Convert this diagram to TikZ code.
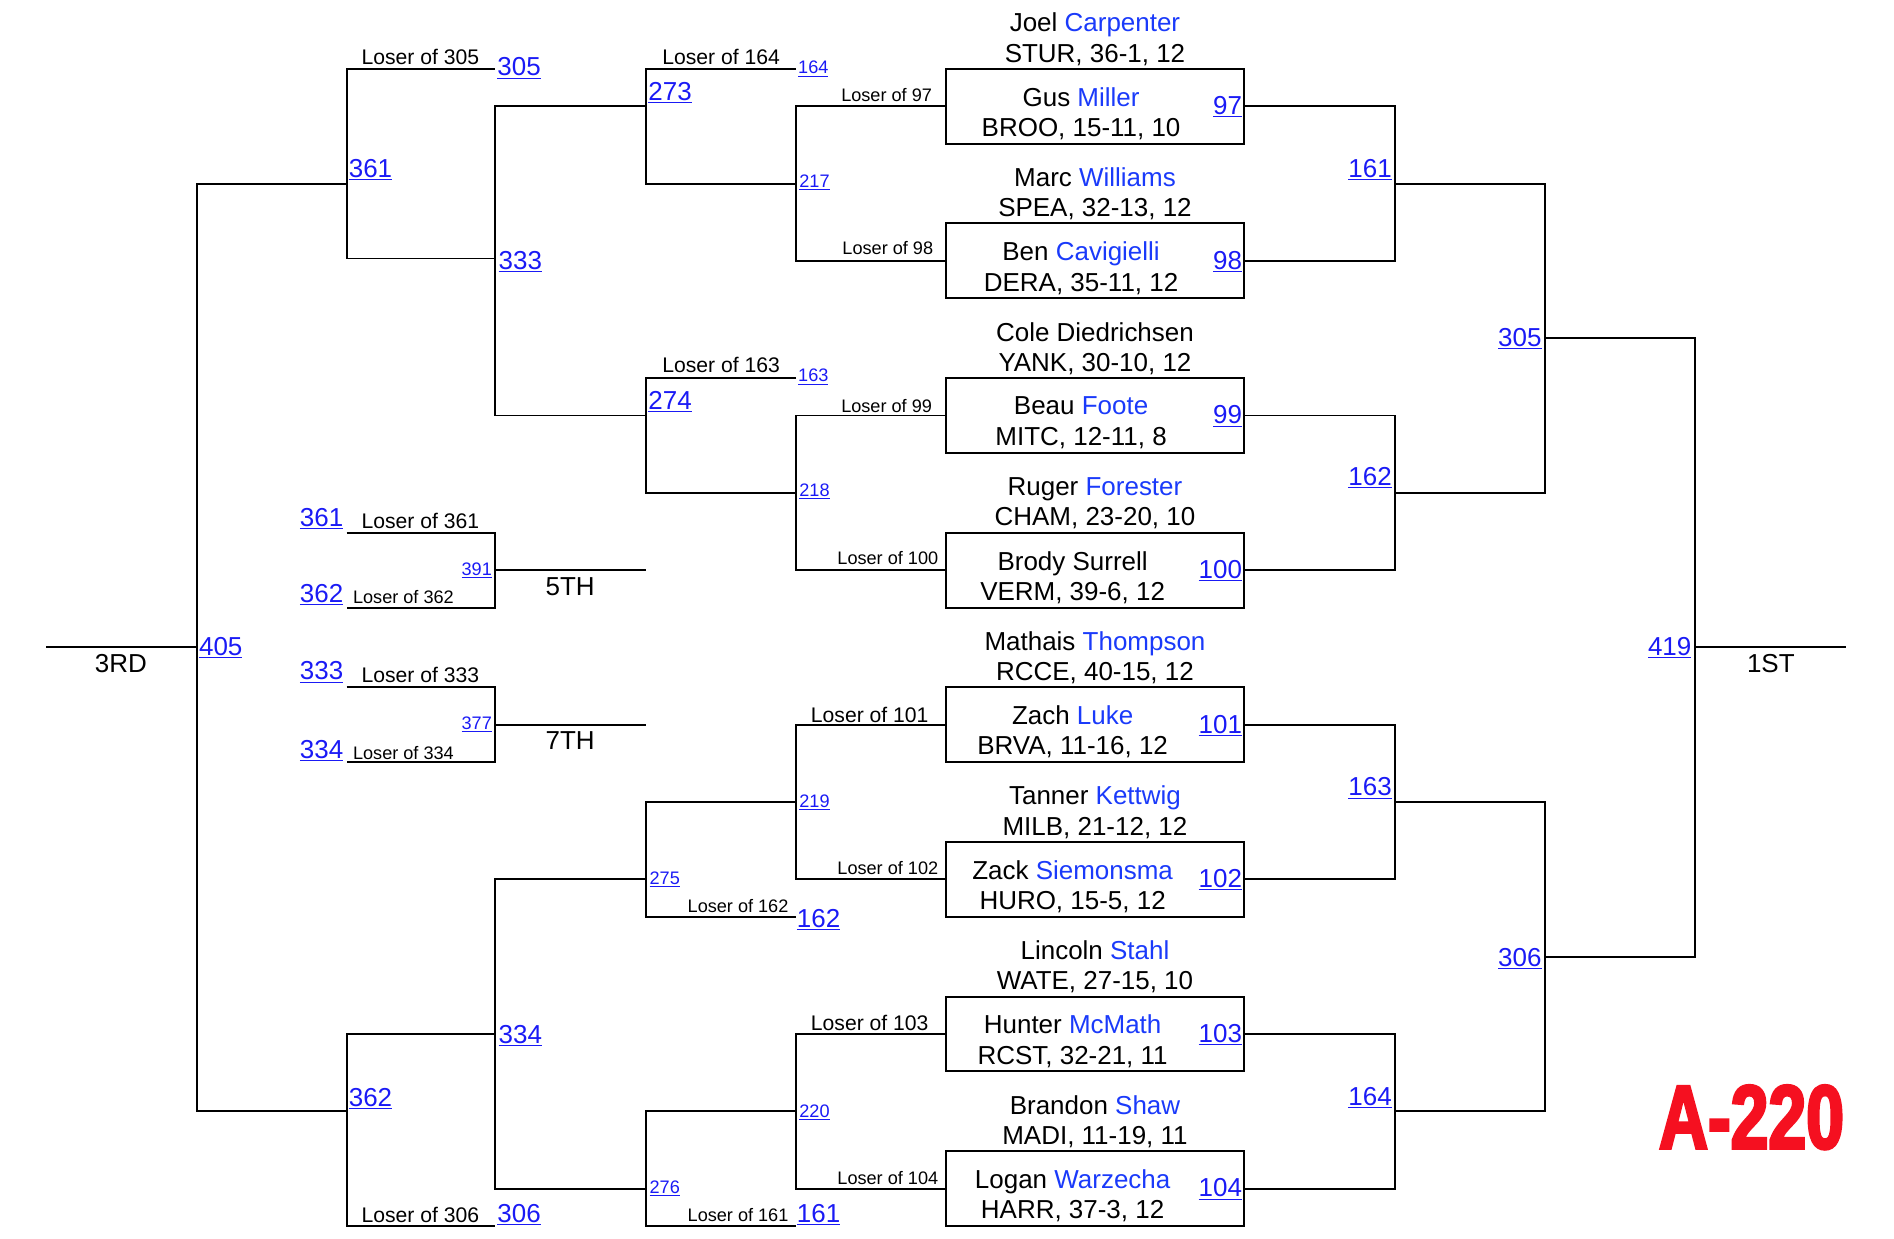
\documentclass[tikz,border=0pt]{standalone}
\usepackage{fontspec}
\setmainfont{Liberation Sans}
\newfontfamily\tagfont{Liberation Sans}[FakeStretch=0.75,BoldFeatures={FakeBold=3}]
\definecolor{linkblue}{RGB}{26,26,245}
\definecolor{nameblue}{RGB}{26,58,250}
\definecolor{tagred}{RGB}{245,16,32}
\newcommand{\lk}[1]{\underline{#1}}
\newcommand{\nm}[1]{{\color{nameblue}#1}}

\begin{document}
\begin{tikzpicture}[x=1pt,y=-1pt,line width=1.6pt,
    fbig/.style={font=\fontsize{21.5}{25}\selectfont,inner sep=0pt,yshift=-1.5pt},
    fmid/.style={font=\fontsize{17.5}{20}\selectfont,inner sep=0pt,yshift=-1pt},
    fsml/.style={font=\fontsize{15}{18}\selectfont,inner sep=0pt,yshift=-1pt},
    lnk/.style={text=linkblue},
    bout/.style={draw,minimum width=247pt,minimum height=62pt,inner sep=0pt}]
  \useasboundingbox (0,0) rectangle (1568,1025);

  % --- the eight first-round bouts ---
  \foreach \k/\n/\tx/\tn/\ti/\bn/\bi in {
      0/97/895/{Joel \nm{Carpenter}}/{STUR, 36-1, 12}/{Gus \nm{Miller}}/{BROO, 15-11, 10},
      1/98/895/{Marc \nm{Williams}}/{SPEA, 32-13, 12}/{Ben \nm{Cavigielli}}/{DERA, 35-11, 12},
      2/99/895/{Cole Diedrichsen}/{YANK, 30-10, 12}/{Beau \nm{Foote}}/{MITC, 12-11, 8},
      3/100/888/{Ruger \nm{Forester}}/{CHAM, 23-20, 10}/{Brody Surrell}/{VERM, 39-6, 12},
      4/101/888/{Mathais \nm{Thompson}}/{RCCE, 40-15, 12}/{Zach \nm{Luke}}/{BRVA, 11-16, 12},
      5/102/888/{Tanner \nm{Kettwig}}/{MILB, 21-12, 12}/{Zack \nm{Siemonsma}}/{HURO, 15-5, 12},
      6/103/888/{Lincoln \nm{Stahl}}/{WATE, 27-15, 10}/{Hunter \nm{McMath}}/{RCST, 32-21, 11},
      7/104/888/{Brandon \nm{Shaw}}/{MADI, 11-19, 11}/{Logan \nm{Warzecha}}/{HARR, 37-3, 12}}
  {
    \node[bout] (b\n) at (906.5,57+128*\k+31) {};
    \node[fbig,align=center] (t\n) at (906.5,57+128*\k-26) {\tn\\\ti};
    \node[fbig,align=center] (i\n) at (\tx,57+128*\k+35.5) {\bn\\\bi};
    \node[fbig,lnk,anchor=east] (n\n) at (1029,57+128*\k+30) {\lk{\n}};
  }

  % --- championship side ---
  \coordinate (j161) at (1155,152);
  \coordinate (j162) at (1155,408);
  \coordinate (j163) at (1155,664);
  \coordinate (j164) at (1155,920);
  \coordinate (j305r) at (1279,280);
  \coordinate (j306r) at (1279,792);
  \coordinate (j419) at (1403,536);
  \coordinate (e1st) at (1528,536);
  \draw (b97.east) -| (j161) |- (b98.east);
  \draw (b99.east) -| (j162) |- (b100.east);
  \draw (b101.east) -| (j163) |- (b102.east);
  \draw (b103.east) -| (j164) |- (b104.east);
  \draw (j161) -| (j305r) |- (j162);
  \draw (j163) -| (j306r) |- (j164);
  \draw (j305r) -| (j419) |- (j306r);
  \draw (j419) -- (e1st);

  \node[fbig,lnk,anchor=east] (k161) at (1153,139) {\lk{161}};
  \node[fbig,lnk,anchor=east] (k162) at (1153,394) {\lk{162}};
  \node[fbig,lnk,anchor=east] (k163) at (1153,651) {\lk{163}};
  \node[fbig,lnk,anchor=east] (k164) at (1153,907) {\lk{164}};
  \node[fbig,lnk,anchor=east] (k305r) at (1277,279) {\lk{305}};
  \node[fbig,lnk,anchor=east] (k306r) at (1277,792) {\lk{306}};
  \node[fbig,lnk,anchor=east] (k419) at (1401,535) {\lk{419}};
  \node[fbig] (p1st) at (1466,548) {1ST};

  % --- consolation side ---
  \coordinate (j217) at (659,152);
  \coordinate (j218) at (659,408);
  \coordinate (j219) at (659,664);
  \coordinate (j220) at (659,920);
  \coordinate (l164) at (659,57);
  \coordinate (l163) at (659,313);
  \coordinate (l162) at (659,759);
  \coordinate (l161) at (659,1015);
  \coordinate (j273) at (535,88);
  \coordinate (j274) at (535,344);
  \coordinate (j275) at (535,728);
  \coordinate (j276) at (535,984);
  \coordinate (j333) at (410,214);
  \coordinate (j334) at (410,856);
  \coordinate (l305) at (410,57);
  \coordinate (l306) at (410,1015);
  \coordinate (j361) at (287,152);
  \coordinate (j362) at (287,920);
  \coordinate (j405) at (163,536);
  \coordinate (e3rd) at (38,536);
  \draw (b97.west) -| (j217) |- (b98.west);
  \draw (b99.west) -| (j218) |- (b100.west);
  \draw (b101.west) -| (j219) |- (b102.west);
  \draw (b103.west) -| (j220) |- (b104.west);
  \draw (l164) -| (j273) |- (j217);
  \draw (l163) -| (j274) |- (j218);
  \draw (j219) -| (j275) |- (l162);
  \draw (j220) -| (j276) |- (l161);
  \draw (j273) -| (j333) |- (j274);
  \draw (j275) -| (j334) |- (j276);
  \draw (l305) -| (j361) |- (j333);
  \draw (j334) -| (j362) |- (l306);
  \draw (j361) -| (j405) |- (j362);
  \draw (j405) -- (e3rd);

  \node[fsml] (q97) at (734,78) {Loser of 97};
  \node[fsml] (q98) at (735,204) {Loser of 98};
  \node[fsml] (q99) at (734,335) {Loser of 99};
  \node[fsml] (q100) at (735,461) {Loser of 100};
  \node[fmid] (q101) at (720,591) {Loser of 101};
  \node[fsml] (q102) at (735,718) {Loser of 102};
  \node[fmid] (q103) at (720,846) {Loser of 103};
  \node[fsml] (q104) at (735,974) {Loser of 104};
  \node[fmid] (q164) at (597,46) {Loser of 164};
  \node[fmid] (q163) at (597,301) {Loser of 163};
  \node[fsml] (q162) at (611,749) {Loser of 162};
  \node[fsml] (q161) at (611,1005) {Loser of 161};
  \node[fmid] (q305) at (348,46) {Loser of 305};
  \node[fmid] (q306) at (348,1005) {Loser of 306};

  \node[fsml,lnk,anchor=west] (k217) at (661,150) {\lk{217}};
  \node[fsml,lnk,anchor=west] (k218) at (661,406) {\lk{218}};
  \node[fsml,lnk,anchor=west] (k219) at (661,663) {\lk{219}};
  \node[fsml,lnk,anchor=west] (k220) at (661,920) {\lk{220}};
  \node[fsml,lnk,anchor=west] (k164l) at (660,56) {\lk{164}};
  \node[fsml,lnk,anchor=west] (k163l) at (660,311) {\lk{163}};
  \node[fbig,lnk,anchor=west] (k162l) at (659,760) {\lk{162}};
  \node[fbig,lnk,anchor=west] (k161l) at (659,1004) {\lk{161}};
  \node[fbig,lnk,anchor=west] (k273) at (536,75) {\lk{273}};
  \node[fbig,lnk,anchor=west] (k274) at (536,331) {\lk{274}};
  \node[fsml,lnk,anchor=west] (k275) at (537,727) {\lk{275}};
  \node[fsml,lnk,anchor=west] (k276) at (537,983) {\lk{276}};
  \node[fbig,lnk,anchor=west] (k333) at (412,215) {\lk{333}};
  \node[fbig,lnk,anchor=west] (k334) at (412,856) {\lk{334}};
  \node[fbig,lnk,anchor=west] (k305l) at (411,55) {\lk{305}};
  \node[fbig,lnk,anchor=west] (k306l) at (411,1004) {\lk{306}};
  \node[fbig,lnk,anchor=west] (k361) at (288,139) {\lk{361}};
  \node[fbig,lnk,anchor=west] (k362) at (288,908) {\lk{362}};
  \node[fbig,lnk,anchor=west] (k405) at (164,535) {\lk{405}};
  \node[fbig] (p3rd) at (100,548) {3RD};

  % --- 5th and 7th place ---
  \coordinate (l361) at (287,441);
  \coordinate (l362) at (287,503);
  \coordinate (j391) at (410,472);
  \coordinate (e5th) at (535,472);
  \coordinate (l333) at (287,569);
  \coordinate (l334) at (287,631);
  \coordinate (j377) at (410,600);
  \coordinate (e7th) at (535,600);
  \draw (l361) -| (j391) |- (l362);
  \draw (j391) -- (e5th);
  \draw (l333) -| (j377) |- (l334);
  \draw (j377) -- (e7th);

  \node[fbig,lnk,anchor=east] (c361) at (285,428) {\lk{361}};
  \node[fbig,lnk,anchor=east] (c362) at (285,491) {\lk{362}};
  \node[fbig,lnk,anchor=east] (c333) at (285,555) {\lk{333}};
  \node[fbig,lnk,anchor=east] (c334) at (285,620) {\lk{334}};
  \node[fmid] (q361) at (348,430) {Loser of 361};
  \node[fsml] (q362) at (334,493) {Loser of 362};
  \node[fmid] (q333) at (348,558) {Loser of 333};
  \node[fsml] (q334) at (334,622) {Loser of 334};
  \node[fsml,lnk,anchor=east] (k391) at (408,471) {\lk{391}};
  \node[fsml,lnk,anchor=east] (k377) at (408,599) {\lk{377}};
  \node[fbig] (p5th) at (472,484) {5TH};
  \node[fbig] (p7th) at (472,612) {7TH};

  \node[text=tagred,font={\fontsize{75}{75}\tagfont\bfseries}] (tag) at (1450,925) {A-220};
\end{tikzpicture}
\end{document}
